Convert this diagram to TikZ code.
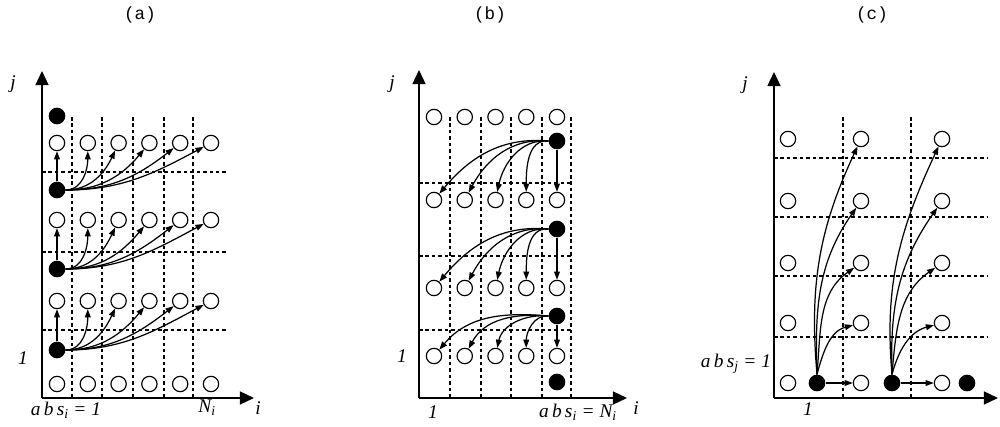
\documentclass[tikz,border=0pt]{standalone}
\usepackage{fontspec}
\setmainfont{Liberation Serif}
\newfontfamily\monofont{Liberation Mono}
\usetikzlibrary{arrows.meta}

\begin{document}
\begin{tikzpicture}[
    x=0.03cm, y=-0.03cm,
    open/.style={circle, draw=black, fill=white, line width=1pt, minimum size=0.46cm, inner sep=0pt},
    full/.style={circle, fill=black, minimum size=0.5cm, inner sep=0pt},
    cell/.style={dashed, dash pattern=on 3pt off 2.5pt, line width=0.9pt},
    axis/.style={line width=1.6pt, -{Triangle[length=12pt, width=11pt]}},
    link/.style={line width=1.05pt, -{Triangle[length=7pt, width=5pt]}},
    lab/.style={font=\fontsize{16.5}{18}\selectfont\itshape, inner sep=0pt},
    title/.style={font=\fontsize{15}{17}\selectfont\monofont, inner sep=0pt}
]
\useasboundingbox (0,0) rectangle (1000,427);

% titles
\node[title] (ta) at (140,15) {(a)};
\node[title] (tb) at (490,15) {(b)};
\node[title] (tc) at (872,15) {(c)};

% panel (a)
\coordinate (ao) at (42,398);
\coordinate (ay) at (42,71);
\coordinate (ax) at (254,398);
\foreach \x in {72,102,133,164,193} \draw[cell] (\x,117) -- (\x,398);
\foreach \y in {172,252,330} \draw[cell] (42,\y) -- (228,\y);
\draw[axis] (ao) -- (ay);
\draw[axis] (ao) -- (ax);
\foreach \col in {1,...,6}
  \foreach \row/\y in {1/384,2/301,3/220,4/143}
    \node[open] (a\col\row) at ({57+30.8*(\col-1)},\y) {};
\foreach \row/\y in {1/350,2/269,3/190,4/116}
  \node[full] (af\row) at (57,\y) {};
\foreach \row/\nxt in {1/2,2/3,3/4} {
  \draw[link] (af\row) -- (a1\nxt);
  \foreach \col/\a in {2/-90,3/-115,4/-130,5/-142,6/-152}
    \draw[link] (af\row.east) to[out=0, in=\a] (a\col\nxt);
}
\node[lab] (ja) at (13,84) {j};
\node[lab] (onea) at (23,358) {1};
\node[lab] (absa) at (66,410) {a\,b\,s\textsubscript{i} = 1};
\node[lab] (na) at (207,408) {N\textsubscript{i}};
\node[lab] (ia) at (258,408) {i};

% panel (b)
\coordinate (bo) at (419,398);
\coordinate (by) at (419,70);
\coordinate (bx) at (627,398);
\foreach \x in {450,481,511,542,571} \draw[cell] (\x,117) -- (\x,398);
\foreach \y in {183,256,330} \draw[cell] (419,\y) -- (573,\y);
\draw[axis] (bo) -- (by);
\draw[axis] (bo) -- (bx);
\foreach \col in {1,...,5}
  \foreach \row/\y in {1/356,2/288,3/200,4/117}
    \node[open] (b\col\row) at ({434+30.75*(\col-1)},\y) {};
\foreach \row/\y in {1/382,2/316,3/229,4/141}
  \node[full] (bf\row) at (557,\y) {};
\foreach \row/\nxt in {2/1,3/2,4/3} {
  \draw[link] (bf\row) -- (b5\nxt);
  \foreach \col/\a in {4/90,3/78,2/62,1/50}
    \draw[link] (bf\row.west) to[out=175, in=\a] (b\col\nxt);
}
\node[lab] (jb) at (392,84) {j};
\node[lab] (oneb) at (402,356) {1};
\node[lab] (onexb) at (433,412) {1};
\node[lab] (absb) at (578,412) {a\,b\,s\textsubscript{i} = N\textsubscript{i}};
\node[lab] (ib) at (636,408) {i};

% panel (c)
\coordinate (co) at (774,398);
\coordinate (cy) at (774,72);
\coordinate (cx) at (998,398);
\foreach \x in {843,911} \draw[cell] (\x,117) -- (\x,398);
\foreach \y in {158,217,276,337} \draw[cell] (774,\y) -- (987,\y);
\draw[axis] (co) -- (cy);
\draw[axis] (co) -- (cx);
\foreach \col/\x in {1/788,2/861,3/942}
  \foreach \row/\y in {1/383,2/323,3/263,4/201,5/139}
    \node[open] (c\col\row) at (\x,\y) {};
\foreach \k/\x in {1/817,2/892,3/967}
  \node[full] (cf\k) at (\x,383) {};
\foreach \k/\m in {1/2,2/3} {
  \draw[link] (cf\k) -- (c\m1);
  \foreach \row/\o/\a in {2/75/195,3/85/215,4/92/235,5/95/245}
    \draw[link] (cf\k.north) to[out=\o, in=\a] (c\m\row);
}
\node[lab] (jc) at (745,85) {j};
\node[lab] (absc) at (736,364) {a\,b\,s\textsubscript{j} = 1};
\node[lab] (onec) at (808,409) {1};

\end{tikzpicture}
\end{document}
